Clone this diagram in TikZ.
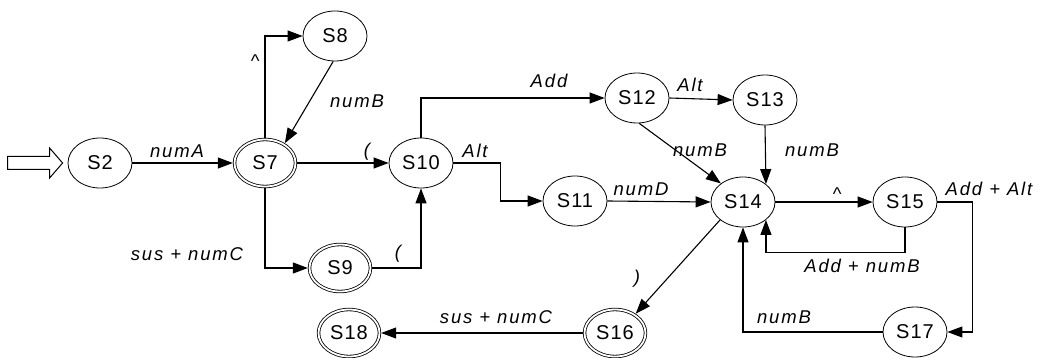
\documentclass[tikz,border=0pt]{standalone}
\usepackage{fontspec}
\setmainfont{Liberation Sans}
\newfontfamily\statefont[LetterSpace=5]{Liberation Sans}
\newfontfamily\edgefont[LetterSpace=10]{Liberation Sans}
\usetikzlibrary{shapes.geometric,arrows.meta,calc}

\begin{document}
\begin{tikzpicture}[x=1pt,y=-1pt,
  state/.style={ellipse, draw, line width=0.8pt, minimum width=64pt,
    minimum height=50pt, inner sep=0pt,
    font=\statefont\fontsize{20}{24}\selectfont},
  accept/.style={state, double, double distance=1.8pt,
    minimum width=61pt, minimum height=47pt, outer sep=1.7pt},
  trans/.style={draw, line width=1.1pt,
    -{Triangle[length=15pt,width=11pt]}},
  lbl/.style={font=\edgefont\itshape\fontsize{18.5}{22}\selectfont,
    inner sep=0pt, anchor=base}]

\useasboundingbox (0,0) rectangle (1040,358);

% states
\node[state]  (S2)  at (100,163) {S2};
\node[accept] (S7)  at (265,163) {S7};
\node[state]  (S8)  at (335,36)  {S8};
\node[accept] (S9)  at (340,268) {S9};
\node[state]  (S10) at (421,163) {S10};
\node[state]  (S11) at (575,201) {S11};
\node[state]  (S12) at (637,98)  {S12};
\node[state]  (S13) at (765,100) {S13};
\node[state]  (S14) at (743,202) {S14};
\node[state]  (S15) at (905,202) {S15};
\node[accept] (S16) at (615,333) {S16};
\node[state]  (S17) at (915,332) {S17};
\node[accept] (S18) at (349,333) {S18};

% start marker: hollow block arrow into S2
\coordinate (tip) at ($(S2.west)+(-5,0)$);
\draw[line width=1pt, fill=white]
  (tip) -- ++(-13,-15) -- ++(0,8.5) -- ++(-42,0) -- ++(0,13)
  -- ++(42,0) -- ++(0,8.5) -- cycle;

% transitions
\draw[trans] (S2.east) -- (S7.west);
\draw[trans] (S7.north) |- (S8.west);
\draw[trans] (S8.-94) -- (S7.45);
\draw[trans] (S7.east) -- (S10.west);
\draw[trans] (S7.south) |- (S9.west);
\draw[trans] (S9.east) -| (S10.south);
\draw[trans] (S10.north) |- (S12.west);
\draw[trans] (S10.east) -- ++(47,0) |- (S11.west);
\draw[trans] (S12.east) -- (S13.west);
\draw[trans] (S12.-85) -- (S14.140);
\draw[trans] (S13.south) -- (S14.38);
\draw[trans] (S11.east) -- (S14.west);
\draw[trans] (S14.east) -- (S15.west);
\draw[trans] (S15.east) -- ++(35,0) |- (S17.east);
\draw[trans] (S15.south) -- ++(0,25) -| (S14.-38);
\draw[trans] (S17.west) -| (S14.south);
\draw[trans] (S14.-142) -- (S16.43);
\draw[trans] (S16.west) -- (S18.east);

% transition labels
\node[lbl] (lA)   at (177,158) {numA};
\node[lbl] (lc1)  at (255,68)  {\textasciicircum};
\node[lbl] (lB1)  at (357,108) {numB};
\node[lbl] (lp1)  at (367,157) {(};
\node[lbl] (lsc1) at (187,260) {sus + numC};
\node[lbl] (lp2)  at (398,258) {(};
\node[lbl] (lAdd) at (549,88)  {Add};
\node[lbl] (lAl1) at (475,158) {Alt};
\node[lbl] (lAl2) at (690,92)  {Alt};
\node[lbl] (lB2)  at (700,157) {numB};
\node[lbl] (lB3)  at (812,157) {numB};
\node[lbl] (lD)   at (641,195) {numD};
\node[lbl] (lc2)  at (837,200) {\textasciicircum};
\node[lbl] (lAA)  at (989,195) {Add + Alt};
\node[lbl] (lAB)  at (862,272) {Add + numB};
\node[lbl] (lB4)  at (784,323) {numB};
\node[lbl] (lq)   at (637,283) {)};
\node[lbl] (lsc2) at (496,323) {sus + numC};

\end{tikzpicture}
\end{document}
